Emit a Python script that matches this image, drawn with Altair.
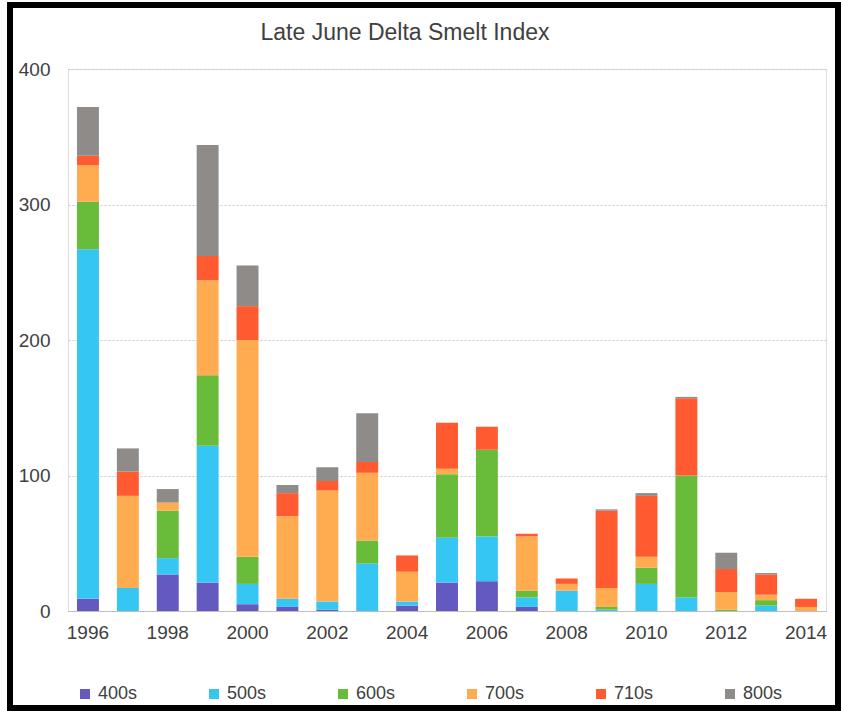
import altair as alt
import pandas as pd

# Late June Delta Smelt index by survey station group
years = list(range(1996, 2015))
series = ["400s", "500s", "600s", "700s", "710s", "800s"]
colors = ["#6459c0", "#36c6f4", "#69bb3a", "#ffab4f", "#ff5a30", "#8f8b89"]

s400 = [9, 0, 27, 21, 5, 3, 1, 0, 4, 21, 22, 3, 0, 0, 0, 0, 0, 0, 0]
s500 = [258, 17, 12, 101, 15, 6, 6, 35, 3, 33, 33, 7, 15, 1, 20, 10, 0, 4, 0]
s600 = [35, 0, 35, 52, 20, 0, 0, 17, 0, 47, 64, 5, 0, 2, 12, 90, 1, 4, 0]
s700 = [27, 68, 6, 70, 160, 61, 82, 50, 22, 4, 0, 40, 5, 14, 8, 0, 13, 4, 3]
s710 = [7, 18, 0, 18, 25, 17, 7, 8, 12, 34, 17, 2, 4, 57, 45, 57, 17, 15, 6]
s800 = [36, 17, 10, 82, 30, 6, 10, 36, 0, 0, 0, 0, 0, 1, 2, 1, 12, 1, 0]

x_labels = [1996, 1998, 2000, 2002, 2004, 2006, 2008, 2010, 2012, 2014]
y_ticks = [0, 100, 200, 300, 400]

rows = []
for idx, (name, vals) in enumerate(zip(series, [s400, s500, s600, s700, s710, s800])):
    for yr, v in zip(years, vals):
        rows.append({"year": yr, "group": name, "value": v, "idx": idx})
df = pd.DataFrame(rows)

FONT = "Liberation Sans"
TEXT = "#404040"

bars = alt.Chart(df).mark_bar().encode(
    x=alt.X(
        "year:O",
        title=None,
        scale=alt.Scale(paddingInner=0.45, paddingOuter=0.225),
        axis=alt.Axis(
            values=x_labels, labelAngle=0, ticks=False, domain=True,
            domainColor="#bfbfbf", domainWidth=1, labelFontSize=19,
            labelColor=TEXT, labelFont=FONT, labelPadding=12, grid=False,
        ),
    ),
    y=alt.Y(
        "value:Q",
        title=None,
        stack="zero",
        scale=alt.Scale(domain=[0, 400], nice=False),
        axis=alt.Axis(
            values=y_ticks, ticks=False, domain=False, labelFontSize=19,
            labelColor=TEXT, labelFont=FONT, labelPadding=18,
            grid=True, gridColor="#c8c8c8", gridDash=[2, 2], gridWidth=1,
        ),
    ),
    color=alt.Color(
        "group:N",
        scale=alt.Scale(domain=series, range=colors),
        legend=alt.Legend(
            title=None, orient="none", legendX=8, legendY=616,
            direction="horizontal", columns=6, columnPadding=67,
            symbolType="square", symbolSize=100, symbolStrokeWidth=0,
            labelFontSize=18, labelColor=TEXT, labelFont=FONT, labelOffset=4,
        ),
    ),
    order=alt.Order("idx:Q", sort="ascending"),
)

# Heavy black frame around the whole figure
frame = alt.Chart(pd.DataFrame({"k": [0]})).mark_rect(
    fill=None, stroke="black", strokeWidth=6
).encode(
    x=alt.value(-58), x2=alt.value(770), y=alt.value(-64), y2=alt.value(639)
)

chart = alt.layer(bars, frame).properties(
    width=758,
    height=542,
    autosize=alt.AutoSizeParams(type="none"),
    padding={"left": 68, "top": 69, "right": 15, "bottom": 100},
    title=alt.Title(
        "Late June Delta Smelt Index", fontSize=23, font=FONT, color=TEXT,
        fontWeight="normal", anchor="middle", dx=-42, offset=-43,
    ),
).configure_view(stroke=None).configure(background="white")

chart.save("out.html", embed_options={"renderer": "svg", "actions": False})
